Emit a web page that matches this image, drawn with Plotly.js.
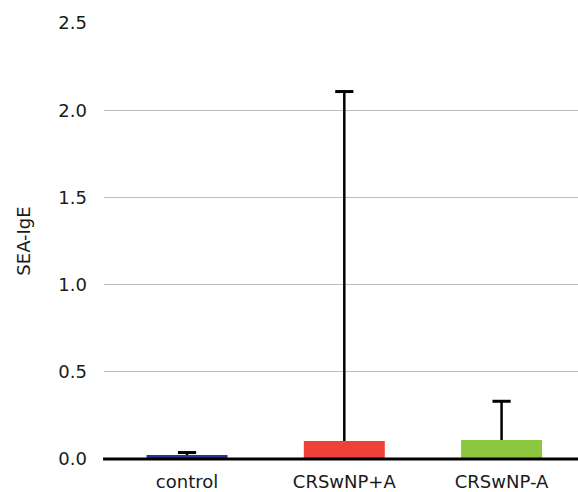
<!DOCTYPE html>
<html><head><meta charset="utf-8">
<script src="https://cdn.plot.ly/plotly-3.0.1.min.js"></script>
<style>html,body{margin:0;padding:0;background:#fff;}</style>
</head><body>
<div id="chart" style="width:578px;height:492px;"></div>
<script>
const categories = ["control", "CRSwNP+A", "CRSwNP-A"];
const means = [0.023, 0.103, 0.109];
const errUp = [0.014, 2.004, 0.222];
const colors = ["#2e3192", "#ef4136", "#8dc63f"];
const yTicks = [0, 0.5, 1.0, 1.5, 2.0, 2.5];
const yTickText = ["0.0", "0.5", "1.0", "1.5", "2.0", "2.5"];

const pos = categories.map((c, i) => i);
const barTrace = {
  type: "bar", x: pos, y: means, width: 0.515,
  marker: {color: colors, line: {width: 0}}, hoverinfo: "none"
};
// one-sided error bars (stem from bar top up to mean+err, cap only at top)
const stemX = [], stemY = [];
pos.forEach((p, i) => { stemX.push(p, p, null); stemY.push(means[i], means[i] + errUp[i], null); });
const stemTrace = {
  type: "scatter", mode: "lines", x: stemX, y: stemY,
  line: {color: "#000", width: 2.5}, hoverinfo: "none", cliponaxis: false
};
const capTrace = {
  type: "scatter", mode: "markers", x: pos, y: means.map((m, i) => m + errUp[i]),
  marker: {symbol: "line-ew", size: 13, line: {color: "#000", width: 3}},
  hoverinfo: "none", cliponaxis: false
};
const layout = {
  width: 578, height: 492,
  margin: {l: 104, r: 0, t: 23, b: 33},
  paper_bgcolor: "#fff", plot_bgcolor: "#fff",
  showlegend: false,
  font: {family: "'DejaVu Sans', sans-serif", color: "#1a1a1a"},
  xaxis: {
    range: [-0.528, 2.486], tickvals: pos, ticktext: categories,
    showgrid: false, zeroline: false, showline: false, ticks: "",
    tickfont: {size: 18}, ticklabelstandoff: 10
  },
  yaxis: {
    range: [0, 2.5], tickvals: yTicks, ticktext: yTickText,
    showgrid: true, gridcolor: "#bdbdbd", gridwidth: 1,
    zeroline: false, showline: false, ticks: "",
    tickfont: {size: 18}, ticklabelstandoff: 16,
    title: {text: "SEA-IgE", font: {size: 18}, standoff: 23}
  },
  shapes: [{type: "line", xref: "paper", yref: "paper", x0: -0.002, x1: 1, y0: 0, y1: 0,
            line: {color: "#000", width: 3}, layer: "above"}]
};
Plotly.newPlot("chart", [barTrace, stemTrace, capTrace], layout, {staticPlot: true, displayModeBar: false});
</script>
</body></html>
